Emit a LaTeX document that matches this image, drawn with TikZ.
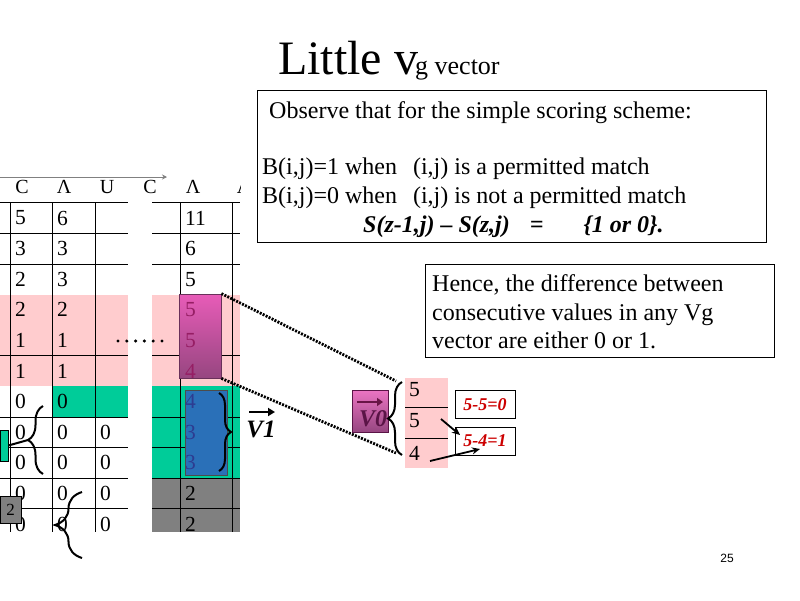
\documentclass[tikz,border=0pt]{standalone}
\usepackage{fontspec}
\setmainfont{Liberation Serif}
\newfontfamily\pagefont{Liberation Sans}
\usetikzlibrary{arrows.meta,decorations.pathreplacing}
\definecolor{pinkbg}{RGB}{255,204,206}
\definecolor{greenbg}{RGB}{0,204,153}
\definecolor{graybg}{RGB}{128,128,128}
\definecolor{magtop}{RGB}{232,92,184}
\definecolor{magbot}{RGB}{150,70,128}
\definecolor{magtext}{RGB}{150,30,100}
\definecolor{bluebox}{RGB}{42,112,184}
\definecolor{bluetext}{RGB}{45,60,145}
\definecolor{vzero}{RGB}{90,20,70}
\definecolor{eqred}{RGB}{204,0,0}

\begin{document}
\begin{tikzpicture}[x=1pt,y=-1pt,
  num/.style={anchor=west,inner sep=0pt,font=\fontsize{21.5}{23}\selectfont},
  hdr/.style={inner sep=0pt,font=\fontsize{20}{22}\selectfont},
  rule/.style={line width=0.8pt},
  curly/.style={decorate,decoration={brace,amplitude=#1},line width=2pt},
  dotline/.style={line width=2.8pt,dash pattern=on 2pt off 1.3pt},
  diffbox/.style={draw,line width=0.8pt,minimum width=60pt,minimum height=28pt,inner sep=0pt,
    text=eqred,font=\fontsize{18}{20}\selectfont\bfseries\itshape},
  body/.style={anchor=base west,inner sep=0pt,font=\fontsize{24}{28}\selectfont},
  pointer/.style={line width=1.8pt,-{Stealth[length=8pt,width=7pt]}}]
\useasboundingbox (0,0) rectangle (800,600);

% title
\node[anchor=base west,inner sep=0pt] (title) at (278,74)
  {{\fontsize{48}{50}\selectfont Little v}\hspace{-3pt}{\fontsize{26}{30}\selectfont g vector}};

% observe box
\node[draw,line width=0.8pt,minimum width=509pt,minimum height=152pt] (obsbox) at (511.5,166) {};
\node[body] (obs) at (269,118) {Observe that for the simple scoring scheme:};
\node[body] (bone) at (262,174) {B(i,j)=1 when\hspace{10pt} (i,j) is a permitted match};
\node[body] (bzero) at (262,203) {B(i,j)=0 when\hspace{10pt} (i,j) is not a permitted match};
\node[body,font=\fontsize{24}{28}\selectfont\bfseries\itshape] (srel) at (363,232)
  {S(z-1,j) -- S(z,j)\hspace{20pt}=\hspace{40pt}\{1 or 0\}.};

% hence box
\node[draw,line width=0.8pt,minimum width=349pt,minimum height=93pt] (hbox) at (599.5,310.5) {};
\node[body] (hone) at (432,291) {Hence, the difference between};
\node[body] (htwo) at (432,320) {consecutive values in any Vg};
\node[body] (hthree) at (432,348) {vector are either 0 or 1.};

% table
\begin{scope}
\clip (0,165) rectangle (240,532);
\fill[pinkbg] (0,294.5) rectangle (128,386.3);
\fill[pinkbg] (152,294.5) rectangle (240,386.3);
\fill[greenbg] (52,386.3) rectangle (128,416.9);
\fill[greenbg] (152,386.3) rectangle (240,478.1);
\fill[graybg] (152,478.1) rectangle (240,532);
\foreach \y in {202.7,233.3,263.9,355.7,416.9,447.5,478.1,508.7} {
  \draw[rule] (0,\y) -- (128,\y);
  \draw[rule] (152,\y) -- (240,\y);
}
\foreach \x in {10,52,95,180,232}
  \draw[rule] (\x,202.7) -- (\x,532);
\foreach \t/\x [count=\i] in {C/22,Λ/64,U/107,C/150,Λ/193,Λ/244}
  \node[hdr] (h\i) at (\x,187) {\t};
\coordinate (gtail) at (0,177);
\coordinate (ghead) at (167,177);
\draw[gray,line width=0.8pt,-{Stealth[length=5pt,width=5pt]}] (gtail) -- (ghead);

% highlighted vectors
\node[draw=magbot!70!black,line width=0.8pt,top color=magtop,bottom color=magbot,
  minimum width=42pt,minimum height=84pt] (vmag) at (200,336) {};
\node[draw=black!70,line width=0.8pt,fill=bluebox,
  minimum width=42pt,minimum height=85pt] (vblue) at (206,432.5) {};

\foreach \v [count=\i] in {5,3,2,2,1,1,0,0,0,0,0}
  \node[num] (p\i) at (15,187.4+30.6*\i) {\v};
\foreach \v [count=\i] in {6,3,3,2,1,1,0,0,0,0,0}
  \node[num] (q\i) at (57,187.4+30.6*\i) {\v};
\foreach \i in {8,...,11}
  \node[num] (r\i) at (100,187.4+30.6*\i) {0};
\foreach \v/\c [count=\i] in {11/black,6/black,5/black,5/magtext,5/magtext,4/magtext,
    4/bluetext,3/bluetext,3/bluetext,2/black,2/black}
  \node[num,text=\c] (s\i) at (185,187.4+30.6*\i) {\v};
\end{scope}

\foreach \k in {0,...,5}
  \fill (118+8.8*\k,341) circle (1.7pt);

% braces on the table
\node[draw,line width=0.8pt,fill=greenbg,minimum width=8pt,minimum height=31pt,inner sep=0pt] (gbox) at (4,445.5) {};
\node[draw,line width=0.8pt,fill=graybg,minimum width=21pt,minimum height=27pt,inner sep=0pt,
  font=\fontsize{17}{19}\selectfont] (twobox) at (10.5,509.5) {2};
\draw[curly=15pt] (43,474) -- (43,406);
\coordinate (bonetip) at (28,440);
\draw[line width=2pt] (bonetip) -- (gbox.east);
\draw[curly=27pt] (82,558) -- (82,492);
\draw[curly=12pt] (219,393) -- (219,471);

% V1
\node[inner sep=0pt,font=\fontsize{25}{27}\selectfont\bfseries\itshape] (vone) at (261,429) {V1};
\coordinate (vonea) at (249,412);
\coordinate (voneb) at (275,412);
\draw[line width=2.2pt,-{Triangle[length=7pt,width=8pt]}] (vonea) -- (voneb);

% V0
\node[draw=vzero,line width=0.8pt,top color=magtop!85!white,bottom color=magbot,
  minimum width=36pt,minimum height=42pt] (vzbox) at (370,411) {};
\node[inner sep=0pt,text=vzero,font=\fontsize{24}{26}\selectfont\bfseries\itshape] (vzero) at (373,419) {V0};
\coordinate (vza) at (357,402);
\coordinate (vzb) at (383,402);
\draw[magtext!70!black,line width=2.6pt,-{Triangle[length=6pt,width=8pt]}] (vza) -- (vzb);
\draw[curly=14pt] (402,455) -- (402,382);
\coordinate (bztop) at (396,381);
\coordinate (bzbot) at (396,453);
\draw[dotline] (vmag.north east) -- (bztop);
\draw[dotline] (vmag.south east) -- (bzbot);

% small column
\fill[pinkbg] (405,378) rectangle (448,468);
\draw[rule] (405,407) -- (448,407);
\draw[rule] (405,438) -- (448,438);
\node[num] (cone) at (409,390) {5};
\node[num] (ctwo) at (409,421) {5};
\node[num] (cthree) at (409,453) {4};

\node[diffbox] (done) at (485,404.5) {5-5=0};
\node[diffbox] (dtwo) at (485,441) {5-4=1};
\coordinate (aone) at (441,419);
\coordinate (aonet) at (460,435);
\coordinate (atwo) at (430,461);
\coordinate (atwot) at (480,449);
\draw[pointer] (aone) -- (aonet);
\draw[pointer] (atwo) -- (atwot);

\node[font=\pagefont\fontsize{12}{14}\selectfont] (pg) at (727,558) {25};
\end{tikzpicture}
\end{document}
